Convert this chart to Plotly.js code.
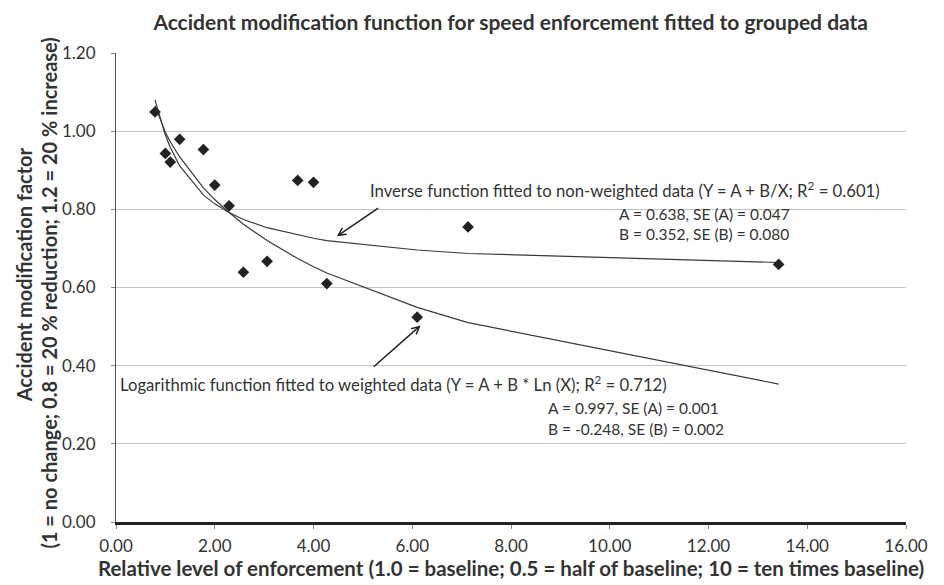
<!DOCTYPE html>
<html>
<head>
<meta charset="utf-8">
<script src="https://cdn.plot.ly/plotly-3.0.1.min.js"></script>
<style>html,body{margin:0;padding:0;background:#fff;}#chart{width:944px;height:585px;}</style>
</head>
<body>
<div id="chart"></div>
<script>
// Grouped data points (relative enforcement level, accident modification factor)
const pointX = [0.79, 1.00, 1.10, 1.29, 1.77, 2.00, 2.29, 2.58, 3.06, 3.68, 4.00, 4.27, 6.10, 7.13, 13.42];
const pointY = [1.049, 0.943, 0.921, 0.979, 0.953, 0.862, 0.809, 0.639, 0.667, 0.874, 0.869, 0.610, 0.524, 0.755, 0.659];

// Fitted curves read at the data x-values
const curveX = [0.79, 1.00, 1.10, 1.29, 1.77, 2.00, 2.29, 2.58, 3.06, 3.68, 4.00, 4.27, 6.10, 7.13, 13.42];
const inverseY = [1.080, 0.990, 0.958, 0.911, 0.837, 0.814, 0.792, 0.774, 0.753, 0.734, 0.726, 0.720, 0.696, 0.687, 0.664];
const logY = [1.065, 0.997, 0.973, 0.934, 0.855, 0.825, 0.792, 0.762, 0.720, 0.674, 0.653, 0.637, 0.549, 0.510, 0.353];

const xTicks = [0, 2, 4, 6, 8, 10, 12, 14, 16];
const yTicks = [0, 0.2, 0.4, 0.6, 0.8, 1.0, 1.2];

const FONT = 'Lato, "Liberation Sans", sans-serif';
const INK = '#333333';

const traces = [
  {x: curveX, y: inverseY, mode: 'lines', line: {color: '#3a3a3a', width: 1.2}, hoverinfo: 'skip'},
  {x: curveX, y: logY, mode: 'lines', line: {color: '#3a3a3a', width: 1.2}, hoverinfo: 'skip'},
  {x: pointX, y: pointY, mode: 'markers', marker: {symbol: 'diamond', size: 9, color: '#222222'}}
];

const ann = [];
function txt(x, y, text, size) {
  ann.push({x: x, y: y, xref: 'x', yref: 'y', text: text, showarrow: false,
            xanchor: 'left', yanchor: 'middle', font: {family: FONT, size: size, color: INK}});
}
function arrow(x, y, ax, ay) {
  ann.push({x: x, y: y, ax: ax, ay: ay, xref: 'x', yref: 'y', axref: 'x', ayref: 'y',
            text: '', showarrow: true, arrowhead: 5, arrowsize: 1, arrowwidth: 1.5, arrowcolor: '#222'});
}
txt(5.10, 0.851, 'Inverse function fitted to non-weighted data (Y = A + B/X; R<sup>2</sup> = 0.601)', 16.7);
txt(10.14, 0.789, 'A = 0.638, SE (A) = 0.047', 15.5);
txt(10.14, 0.736, 'B = 0.352, SE (B) = 0.080', 15.5);
txt(0.05, 0.355, 'Logarithmic function fitted to weighted data (Y = A + B * Ln (X); R<sup>2</sup> = 0.712)', 16.7);
txt(8.70, 0.291, 'A = 0.997, SE (A) = 0.001', 15.5);
txt(8.70, 0.237, 'B = -0.248, SE (B) = 0.002', 15.5);
arrow(4.474, 0.731, 5.34, 0.806);
arrow(6.17, 0.503, 5.19, 0.394);

// Y axis title (two lines)
ann.push({xref: 'paper', yref: 'paper', x: -0.1165, y: 0.528, xanchor: 'center', yanchor: 'middle',
          text: '<b>Accident modification factor</b>', textangle: -90, showarrow: false,
          font: {family: FONT, size: 20, color: INK}});
ann.push({xref: 'paper', yref: 'paper', x: -0.0848, y: 0.487, xanchor: 'center', yanchor: 'middle',
          text: '<b>(1 = no change; 0.8 = 20 % reduction; 1.2 = 20 % increase)</b>', textangle: -90, showarrow: false,
          font: {family: FONT, size: 20, color: INK}});

const layout = {
  width: 944, height: 585,
  margin: {l: 116, r: 38, t: 53, b: 63},
  paper_bgcolor: '#fff', plot_bgcolor: '#fff',
  showlegend: false,
  font: {family: FONT, color: INK},
  title: {text: '<b>Accident modification function for speed enforcement fitted to grouped data</b>',
          x: 0.541, xanchor: 'center', y: 0.962, yanchor: 'middle', font: {family: FONT, size: 21, color: INK}},
  xaxis: {
    range: [0, 16], tickvals: xTicks, ticktext: xTicks.map(v => v.toFixed(2)),
    showgrid: false, zeroline: false, showline: true, linecolor: '#222', linewidth: 2.5,
    ticks: 'outside', ticklen: 4, tickcolor: '#888', ticklabelstandoff: 3,
    tickfont: {family: FONT, size: 17, color: INK},
    title: {text: '<b>Relative level of enforcement (1.0 = baseline; 0.5 = half of baseline; 10 = ten times baseline)</b>',
            font: {family: FONT, size: 20.5, color: INK}, standoff: 2}
  },
  yaxis: {
    range: [0, 1.2], tickvals: yTicks, ticktext: yTicks.map(v => v.toFixed(2)),
    showgrid: true, gridcolor: '#c4c4c4', gridwidth: 1, zeroline: false,
    showline: true, linecolor: '#555', linewidth: 1,
    ticks: 'outside', ticklen: 4, tickcolor: '#888', ticklabelstandoff: 12,
    tickfont: {family: FONT, size: 17, color: INK}
  },
  annotations: ann
};

Plotly.newPlot('chart', traces, layout, {staticPlot: true, displayModeBar: false});
</script>
</body>
</html>
